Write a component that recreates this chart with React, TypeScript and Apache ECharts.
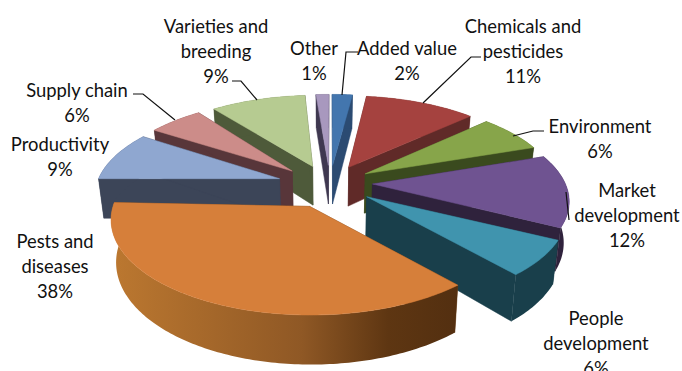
import React, { useEffect, useRef } from "react";
import * as echarts from "echarts";

// Shares of research priorities, clockwise from twelve o'clock.
const categories = [
  "Added value",
  "Chemicals and\npesticides",
  "Environment",
  "Market\ndevelopment",
  "People\ndevelopment",
  "Pests and\ndiseases",
  "Productivity",
  "Supply chain",
  "Varieties and\nbreeding",
  "Other",
];
const shares = [2, 11, 6, 12, 6, 38, 9, 6, 9, 1];

const topColors = ["#4376AE", "#A5423F", "#87A54A", "#6F5391", "#4094AE", "#D67F3A", "#8FA7D0", "#CC8C89", "#B6CB91", "#A898BE"];
const wallColors = ["#2B4B72", "#602A28", "#3A4A1E", "#2F223C", "#193F4B", "#6B3F16", "#3C4558", "#58363A", "#4E5A3A", "#3F3850"];

// Label block anchors: centre x, top y of first line.
const labelAnchors: [number, number][] = [
  [407, 36], [523, 14], [600, 114], [627, 178], [596, 306], [55, 229], [60, 132], [77, 78], [216, 14], [314, 36],
];
// Leader lines; slices without one have an empty list.
const leaders: [number, number][][] = [
  [[358, 52], [346, 52], [342, 95]],
  [[481, 57], [471, 57], [423, 103]],
  [[544, 131], [533, 131], [513, 136]],
  [[566, 192], [569, 220]],
  [],
  [],
  [],
  [[133, 94], [143, 94], [175, 120]],
  [[232, 81], [241, 81], [257, 100]],
  [],
];

// Perspective projection of the pie plane onto the page.
const CX = 330;
const CY = 184;
const SCALE_X = 193;
const SCALE_Y = 87.8;
const PERSPECTIVE = 0.16;
const EXPLODE = 0.22;
const APEX_LEFT = 1.25;
const APEX_NEAR = 1.2;
const THICKNESS = 40;
const BASE_SHRINK = 0.977;

// Lens correction of the pie angle, as [angle, degrees added] breakpoints.
const lensCorrection: [number, number][] = [
  [0, 0], [46.8, 0], [68.4, 2.5], [111.6, 6], [133.2, 7], [200, 4], [270, 0], [302.4, -0.5], [324, -2.5], [356.4, -1], [360, 0],
];

type Pt = [number, number];

function corrected(deg: number): number {
  for (let k = 1; k < lensCorrection.length; k++) {
    const [a0, d0] = lensCorrection[k - 1];
    const [a1, d1] = lensCorrection[k];
    if (deg <= a1) return deg + d0 + ((deg - a0) / (a1 - a0)) * (d1 - d0);
  }
  return deg;
}

function project(u: number, v: number, lower: boolean): Pt {
  const w = 1 + PERSPECTIVE * v;
  const x = (SCALE_X * u) / w;
  const y = CY - (SCALE_Y * v) / w;
  if (!lower) return [CX + x, y];
  return [CX + x * BASE_SHRINK, y + THICKNESS / w];
}

const total = shares.reduce((a, b) => a + b, 0);

function sliceSpan(index: number): [number, number] {
  const before = shares.slice(0, index).reduce((a, b) => a + b, 0);
  const a0 = (before / total) * 360;
  return [a0, a0 + (shares[index] / total) * 360];
}

function sliceOffset(index: number): [number, number] {
  const [a0, a1] = sliceSpan(index);
  const mid = (((a0 + a1) / 2) * Math.PI) / 180;
  return [EXPLODE * Math.sin(mid), EXPLODE * Math.cos(mid)];
}

function rimPoint(index: number, deg: number): [number, number] {
  const [du, dv] = sliceOffset(index);
  const t = (corrected(deg) * Math.PI) / 180;
  return [du + Math.sin(t), dv + Math.cos(t)];
}

function apexPoint(index: number): [number, number] {
  const [du, dv] = sliceOffset(index);
  return [du < 0 ? du * APEX_LEFT : du, dv < 0 ? dv * APEX_NEAR : dv];
}

function renderSlice(params: any) {
  const i = params.dataIndex;
  const [a0, a1] = sliceSpan(i);
  const mid = (a0 + a1) / 2;
  const depth = Math.cos((mid * Math.PI) / 180);
  const base = Math.round((1.2 - depth) * 100) * 10;

  const arc: [number, number][] = [];
  const steps = Math.max(2, Math.ceil(a1 - a0));
  for (let s = 0; s <= steps; s++) {
    arc.push(rimPoint(i, a0 + ((a1 - a0) * s) / steps));
  }
  const apex = apexPoint(i);
  const upper = (p: [number, number]) => project(p[0], p[1], false);
  const lower = (p: [number, number]) => project(p[0], p[1], true);

  const quad = (p: [number, number], q: [number, number], z: number) => ({
    type: "polygon",
    z2: base + z,
    shape: { points: [upper(p), upper(q), lower(q), lower(p)] },
    style: { fill: wallColors[i], stroke: wallColors[i], lineWidth: 0.5 },
  });

  const outerFill =
    categories[i].startsWith("Pests")
      ? new echarts.graphic.LinearGradient(0, 0, 1, 0, [
          { offset: 0, color: "#BC7830" },
          { offset: 0.55, color: "#8F5825" },
          { offset: 0.8, color: "#5E3612" },
          { offset: 1, color: "#532F10" },
        ])
      : wallColors[i];

  const children: any[] = [
    quad(apex, arc[0], 0),
    quad(apex, arc[arc.length - 1], 1),
    {
      type: "polygon",
      z2: base + 2,
      shape: { points: [...arc.map(upper), ...arc.slice().reverse().map(lower)] },
      style: { fill: outerFill },
    },
    {
      type: "polygon",
      z2: base + 3,
      shape: { points: [upper(apex), ...arc.map(upper)] },
      style: { fill: topColors[i], stroke: topColors[i], lineWidth: 0.5 },
    },
    {
      type: "text",
      z2: 5000,
      style: {
        text: `${categories[i]}\n${shares[i]}%`,
        x: labelAnchors[i][0],
        y: labelAnchors[i][1],
        align: "center",
        verticalAlign: "top",
        lineHeight: 24.8,
        fontFamily: "Lato",
        fontSize: 18.4,
        fill: "#111111",
      },
    },
  ];
  if (leaders[i].length) {
    children.push({
      type: "polyline",
      z2: 4900,
      shape: { points: leaders[i] },
      style: { stroke: "#111111", lineWidth: 1.2, fill: "none" },
    });
  }
  return { type: "group", children };
}

export default function App() {
  const ref = useRef<HTMLDivElement>(null);
  useEffect(() => {
    const chart = echarts.init(ref.current!, undefined, { renderer: "svg" });
    chart.setOption({
      animation: false,
      backgroundColor: "#ffffff",
      series: [
        {
          type: "custom",
          coordinateSystem: "none",
          renderItem: renderSlice,
          data: shares.map((value, i) => ({ name: categories[i], value })),
          silent: true,
        },
      ],
    });
    return () => chart.dispose();
  }, []);
  return <div ref={ref} style={{ position: "fixed", left: 0, top: 0, width: 682, height: 371, overflow: "hidden" }} />;
}
